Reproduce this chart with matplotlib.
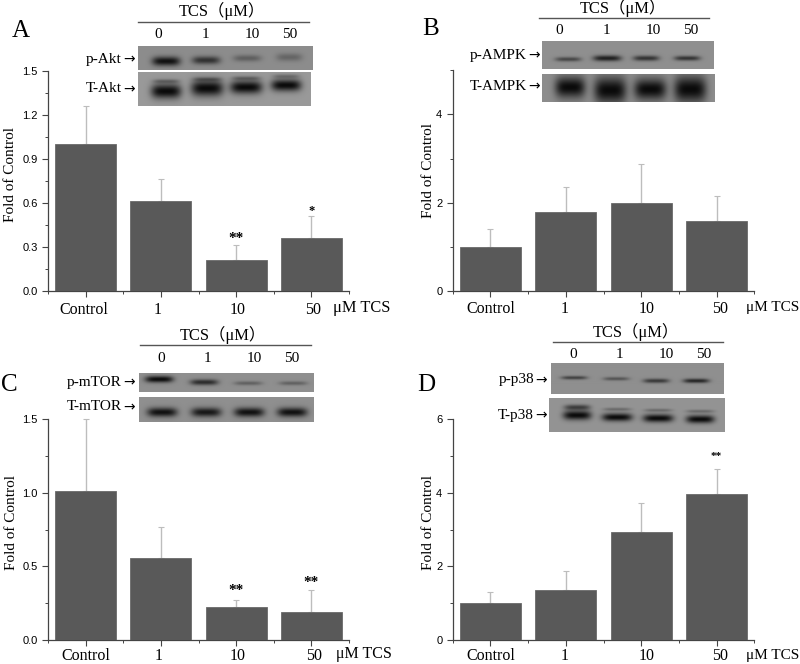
import matplotlib
matplotlib.use('Agg')
import matplotlib.pyplot as plt
import numpy as np
from matplotlib.transforms import ScaledTranslation

plt.rcParams['font.family'] = ['Liberation Serif', 'Noto Sans CJK SC']

W, H = 800, 664

categories = ['Control', '1', '10', '50']
lanes = ['0', '1', '10', '50']

# values
values_a = [1.0, 0.61, 0.21, 0.36]
values_b = [1.0, 1.8, 2.0, 1.58]
values_c = [1.01, 0.56, 0.225, 0.19]
values_d = [1.0, 1.35, 2.93, 3.97]

errors_a = [0.26, 0.15, 0.10, 0.15]
errors_b = [0.40, 0.55, 0.88, 0.57]
errors_c = [0.49, 0.21, 0.05, 0.15]
errors_d = [0.30, 0.52, 0.79, 0.68]

ticks_a = [0.0, 0.3, 0.6, 0.9, 1.2, 1.5]
ticks_b = [0, 2, 4]
ticks_c = [0.0, 0.5, 1.0, 1.5]
ticks_d = [0, 2, 4, 6]

# panel layout in picture pixels
panels = [
    dict(letter='A', letter_xy=(21, 31), box=(48, 349, 70.7, 291), vals=values_a, errs=errors_a,
         ticks=ticks_a, fmt='%.1f', ymax=1.5, minor=0.15, label_xy=(11, 175), dx=[-1.7, -3.5, 2, 1.7], pad=3.5,
         unit_xy=(333, 308), unit_size=11.8, head=(222, 11), rule=(138, 309, 22),
         nums=[158, 205, 252, 290], nums_y=34,
         stars=[(2, 0.31, '**', 11, 0), (3, 0.51, '*', 9, -1)]),
    dict(letter='B', letter_xy=(431, 29), box=(452.7, 754.3, 70.3, 291), vals=values_b, errs=errors_b,
         ticks=ticks_b, fmt='%d', ymax=5.0, minor=1, label_xy=(428, 170), dx=[0, -1.5, 5, 3], pad=3,
         unit_xy=(746, 307), unit_size=11, head=(623, 8), rule=(539, 709, 18),
         nums=[559, 606, 653, 691], nums_y=31,
         stars=[]),
    dict(letter='C', letter_xy=(9, 385), box=(48, 349, 419.3, 640), vals=values_c, errs=errors_c,
         ticks=ticks_c, fmt='%.1f', ymax=1.5, minor=0.25, label_xy=(12, 523), dx=[0, -2.7, 2, 3], pad=1.5,
         unit_xy=(336, 654), unit_size=11.5, head=(223, 335), rule=(140, 311, 345),
         nums=[161, 207, 254, 292], nums_y=358,
         stars=[(2, 0.275, '**', 11, 2), (3, 0.34, '**', 11, 1)]),
    dict(letter='D', letter_xy=(426, 385), box=(452.7, 754.3, 419.3, 640), vals=values_d, errs=errors_d,
         ticks=ticks_d, fmt='%d', ymax=6.0, minor=1, label_xy=(428, 523), dx=[0, -1.5, 5, 3], pad=1.5,
         unit_xy=(746, 655), unit_size=11, head=(636, 332), rule=(553, 723, 342),
         nums=[573, 619, 666, 704], nums_y=354,
         stars=[(3, 4.65, '**', 8, 6)]),
]

# western blot strips: label, label pos, box, background, bands (x, y, half w, half h, strength)
blots = [
    ('p-Akt', (134, 59), (138, 313, 46, 70), 0.55,
     [(166, 61, 14, 3.5, 0.95), (206, 60, 14, 3, 0.7), (247, 58, 14, 2.5, 0.35), (289, 57, 13, 3, 0.3)]),
    ('T-Akt', (134, 89), (138, 311, 72, 106), 0.6,
     [(166, 91, 15, 5.5, 1), (207, 88, 16, 6, 1), (246, 87, 16, 5, 1), (286, 85, 15, 4.5, 1),
      (166, 81, 13, 1.5, 0.3), (207, 79, 14, 1.5, 0.3), (246, 78, 14, 1.5, 0.3), (286, 76, 13, 1.5, 0.25)]),
    ('p-AMPK', (539, 55), (542, 714, 41, 69), 0.56,
     [(568, 59, 13, 1.7, 0.55), (607, 58, 14, 2.2, 0.85), (646, 58, 13, 2, 0.7), (687, 58, 13, 1.8, 0.7)]),
    ('T-AMPK', (539, 86), (542, 715, 74, 102), 0.55,
     [(570, 87, 15, 8, 1), (610, 90, 16, 10, 1), (650, 89, 16, 8, 1), (690, 89, 16, 10, 1)]),
    ('p-mTOR', (134, 382), (139, 314, 373, 392), 0.56,
     [(159, 379, 14, 2.5, 1), (204, 382, 14, 2.2, 0.75), (248, 383, 14, 1.5, 0.35), (293, 383, 14, 1.5, 0.35)]),
    ('T-mTOR', (134, 407), (139, 314, 397, 422), 0.56,
     [(162, 412, 15, 3.5, 0.95), (206, 412, 15, 3.5, 0.9), (249, 412, 15, 3.5, 0.95), (292, 412, 15, 3.5, 0.95)]),
    ('p-p38', (546, 380), (551, 724, 363, 394), 0.56,
     [(574, 378, 13, 1.3, 0.6), (616, 379, 13, 1.3, 0.45), (656, 381, 13, 1.6, 0.65), (696, 381, 13, 1.6, 0.8)]),
    ('T-p38', (546, 415), (549, 725, 398, 432), 0.58,
     [(577, 415, 14, 3.5, 1), (617, 417, 15, 3, 1), (658, 418, 15, 3, 1), (700, 419, 14, 3, 1),
      (577, 407, 13, 2, 0.6), (617, 409, 14, 1.2, 0.3), (658, 410, 14, 1.2, 0.3), (700, 411, 14, 1.2, 0.3)]),
]


def fx(x):
    return x / W


def fy(y):
    return 1 - y / H


fig = plt.figure(figsize=(8, 6.64), dpi=100)

for p in panels:
    left, right, top, bottom = p['box']
    ax = fig.add_axes([fx(left), fy(bottom), (right - left) / W, (bottom - top) / H])
    x = np.arange(len(categories))
    ax.bar(x, p['vals'], width=0.81, color='#595959', edgecolor='#6a6a6a', linewidth=0.6, zorder=3)
    ax.errorbar(x, p['vals'], yerr=[np.zeros(4), p['errs']], fmt='none', ecolor='#bdbdbd',
                elinewidth=1.0, capsize=2, capthick=0.8, zorder=2, clip_on=False)
    ax.set_xlim(-0.5, 3.5)
    ax.set_ylim(0, p['ymax'])

    ax.spines['top'].set_visible(False)
    ax.spines['right'].set_visible(False)
    for side in ['left', 'bottom']:
        ax.spines[side].set_linewidth(0.9)
        ax.spines[side].set_color('#444444')

    ax.set_xticks(x)
    ax.set_xticklabels(categories, fontsize=11.5)
    ax.set_xticks(np.arange(-0.5, 4, 1), minor=True)
    ax.set_yticks(p['ticks'])
    ax.set_yticklabels([p['fmt'] % t for t in p['ticks']], fontsize=8, family='Liberation Sans')
    ax.set_yticks(np.arange(0, p['ymax'] + 0.001, p['minor']), minor=True)
    ax.tick_params(axis='both', which='major', length=4.5, width=0.8, color='#444444')
    ax.tick_params(axis='both', which='minor', length=2.5, width=0.7, color='#444444')
    ax.tick_params(axis='x', which='major', pad=p['pad'])
    ax.tick_params(axis='y', which='major', pad=3)

    # the category labels sit a little off their ticks
    for lab, dx in zip(ax.get_xticklabels(), p['dx']):
        lab.set_transform(lab.get_transform() + ScaledTranslation(dx / 100, 0, fig.dpi_scale_trans))

    ax.set_ylabel('Fold of Control', fontsize=11, va='center')
    ax.yaxis.set_label_coords(fx(p['label_xy'][0]), fy(p['label_xy'][1]), transform=fig.transFigure)

    for i, top_val, s, size, off in p['stars']:
        ax.annotate(s, (i, top_val), xytext=(0, off), textcoords='offset points', ha='center', va='bottom',
                    fontsize=size, fontweight='bold', zorder=5)

    fig.text(fx(p['unit_xy'][0]), fy(p['unit_xy'][1]), '\u03bcM TCS', fontsize=p['unit_size'], va='center')
    fig.text(fx(p['letter_xy'][0]), fy(p['letter_xy'][1]), p['letter'], fontsize=18, ha='center', va='center')
    fig.text(fx(p['head'][0]), fy(p['head'][1]), 'TCS\uff08\u03bcM\uff09', fontsize=11.8, ha='center', va='center')
    x0, x1, y0 = p['rule']
    fig.add_artist(plt.Line2D([fx(x0), fx(x1)], [fy(y0), fy(y0)], color='#555555', linewidth=1.0))
    for lane, nx in zip(lanes, p['nums']):
        fig.text(fx(nx), fy(p['nums_y']), lane, fontsize=11, ha='center', va='center')

for name, pos, box, bg, bands in blots:
    x0, x1, y0, y1 = box
    ax = fig.add_axes([fx(x0), fy(y1), (x1 - x0) / W, (y1 - y0) / H], zorder=6)
    xx, yy = np.meshgrid(np.arange(x0, x1, 0.5), np.arange(y0, y1, 0.5))
    img = np.full(xx.shape, bg)
    for bx, by, hw, hh, strength in bands:
        # thicker and softer than the raw band size, film bands bleed a bit
        img = img - strength * (bg - 0.04) * np.exp(-((xx - bx) / hw) ** 4 - ((yy - by) / (hh * 1.3)) ** 2)
    ax.imshow(np.clip(img, 0, 1), cmap='gray', vmin=0, vmax=1, aspect='auto', interpolation='bilinear')
    ax.axis('off')
    # arrow from DejaVu, the Liberation one is too short
    fig.text(fx(pos[0] - 12), fy(pos[1]), name, fontsize=11, ha='right', va='center')
    fig.text(fx(pos[0] + 1), fy(pos[1]), '\u2192', fontsize=10, ha='right', va='center', family='DejaVu Sans')

fig.savefig('out.png', dpi=100)
